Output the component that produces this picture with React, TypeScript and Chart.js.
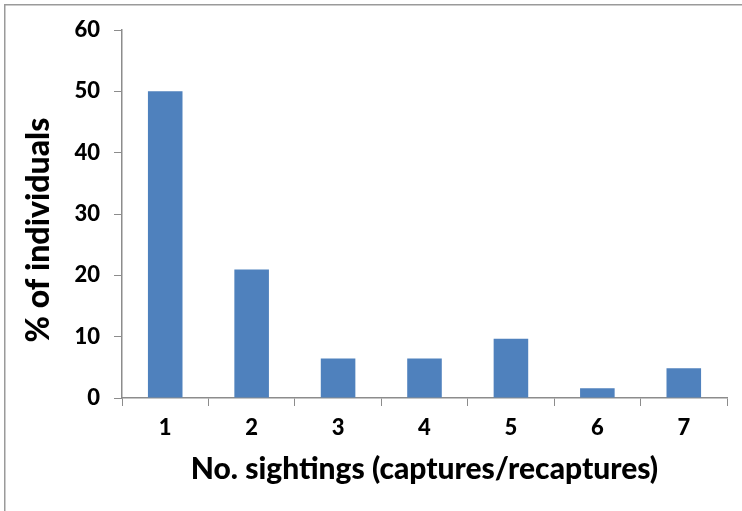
import React, { useEffect, useRef } from "react";
import { Chart, registerables } from "chart.js";

Chart.register(...registerables);

const categories: string[] = ["1", "2", "3", "4", "5", "6", "7"];
const percentIndividuals: number[] = [50, 20.97, 6.45, 6.45, 9.68, 1.61, 4.84];
const yTickValues: number[] = [0, 10, 20, 30, 40, 50, 60];
const xTitle = "No. sightings (captures/recaptures)";
const yTitle = "% of individuals";

const FONT = "Lato, 'Open Sans', sans-serif";
const AXIS_GRAY = "#8c8c8c";

const framePlugin = {
  id: "frame",
  beforeDraw(chart: any) {
    const ctx = chart.ctx;
    ctx.save();
    ctx.fillStyle = "#ffffff";
    ctx.fillRect(0, 0, chart.width, chart.height);
    ctx.strokeStyle = "#9a9a9a";
    ctx.lineWidth = 1.5;
    ctx.beginPath();
    ctx.moveTo(4.75, chart.height);
    ctx.lineTo(4.75, 4.75);
    ctx.lineTo(chart.width, 4.75);
    ctx.stroke();
    ctx.restore();
  },
};

const yTitlePlugin = {
  id: "yTitleCustom",
  afterDraw(chart: any) {
    const ctx = chart.ctx;
    ctx.save();
    ctx.translate(39, 230);
    ctx.rotate(-Math.PI / 2);
    ctx.font = `900 32px ${FONT}`;
    ctx.fillStyle = "#000000";
    ctx.textAlign = "center";
    ctx.textBaseline = "middle";
    ctx.fillText(yTitle, 0, 0);
    ctx.restore();
  },
};

export default function App() {
  const canvasRef = useRef<HTMLCanvasElement | null>(null);

  useEffect(() => {
    if (!canvasRef.current) return;
    const chart = new Chart(canvasRef.current, {
      type: "bar",
      data: {
        labels: categories,
        datasets: [
          {
            data: percentIndividuals,
            backgroundColor: "#4F81BD",
            borderWidth: 0,
            categoryPercentage: 0.4,
            barPercentage: 1,
          },
        ],
      },
      options: {
        animation: false,
        responsive: false,
        maintainAspectRatio: false,
        devicePixelRatio: 1,
        layout: { padding: { left: 0, top: 30, right: 15, bottom: 0 } },
        plugins: {
          legend: { display: false },
          tooltip: { enabled: false },
        },
        scales: {
          x: {
            offset: true,
            grid: {
              offset: true,
              drawOnChartArea: false,
              drawTicks: true,
              tickLength: 8,
              color: AXIS_GRAY,
            },
            border: { display: true, color: AXIS_GRAY, width: 1.5 },
            ticks: {
              color: "#000000",
              font: { family: FONT, size: 22, weight: "900" },
              padding: 9,
              maxRotation: 0,
            },
            title: {
              display: true,
              text: xTitle,
              color: "#000000",
              font: { family: FONT, size: 30, weight: "900" },
              padding: { top: 0, bottom: 24 },
            },
            afterFit(scale: any) {
              scale.height = 113;
            },
          },
          y: {
            min: 0,
            max: 60,
            afterBuildTicks(scale: any) {
              scale.ticks = yTickValues.map((v) => ({ value: v }));
            },
            grid: {
              drawOnChartArea: false,
              drawTicks: true,
              tickLength: 8,
              color: AXIS_GRAY,
            },
            border: { display: true, color: AXIS_GRAY, width: 1.5 },
            ticks: {
              color: "#000000",
              font: { family: FONT, size: 22, weight: "900" },
              padding: 14,
            },
            afterFit(scale: any) {
              scale.width = 122;
            },
          },
        },
      },
      plugins: [framePlugin, yTitlePlugin],
    });
    return () => chart.destroy();
  }, []);

  return (
    <div style={{ position: "absolute", left: 0, top: 0, width: 742, height: 511 }}>
      <canvas ref={canvasRef} width={742} height={511} style={{ width: 742, height: 511 }} />
    </div>
  );
}
